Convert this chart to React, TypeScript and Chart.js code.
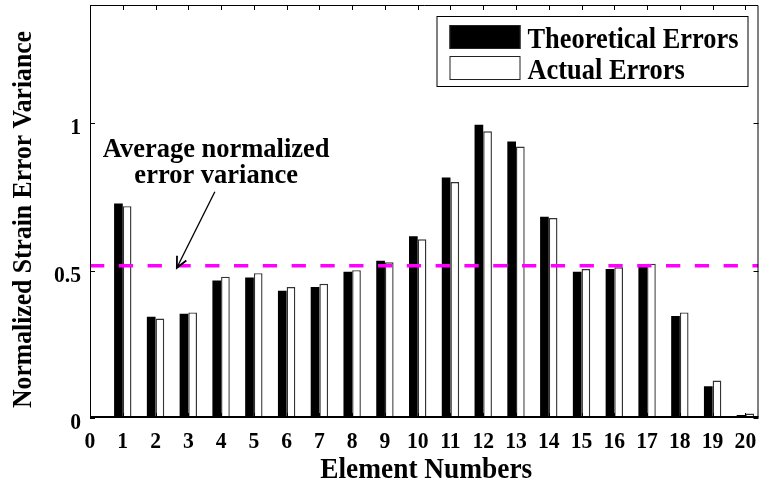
import { useEffect, useRef } from "react";
import { Chart, registerables } from "chart.js";

Chart.register(...registerables);

// Element indices along the horizontal axis
const elementNumbers = [1, 2, 3, 4, 5, 6, 7, 8, 9, 10, 11, 12, 13, 14, 15, 16, 17, 18, 19, 20];

// Normalized strain error variance per element
const theoreticalErrors = [
  0.727, 0.343, 0.353, 0.466, 0.476, 0.431, 0.444, 0.496, 0.533, 0.616,
  0.815, 0.994, 0.937, 0.682, 0.496, 0.505, 0.515, 0.346, 0.108, 0.01,
];
const actualErrors = [
  0.718, 0.337, 0.358, 0.479, 0.491, 0.444, 0.455, 0.501, 0.528, 0.606,
  0.8, 0.972, 0.92, 0.678, 0.505, 0.511, 0.523, 0.358, 0.127, 0.015,
];

// Average normalized error variance (dashed reference line)
const averageVariance = 0.516;

const xTickValues = [0, 1, 2, 3, 4, 5, 6, 7, 8, 9, 10, 11, 12, 13, 14, 15, 16, 17, 18, 19, 20];
const yTickValues = [0, 0.5, 1];
const yTickLabels = ["0", "0.5", "1"];

const seriesLabels = ["Theoretical Errors", "Actual Errors"];
const annotationLines = ["Average normalized", "error variance"];
const xAxisTitle = "Element Numbers";
const yAxisTitle = "Normalized Strain Error Variance";

const X_MAX = 20.4;
const Y_MAX = 1.4;
const SERIF = '"Liberation Serif", "Times New Roman", serif';

// Bold serif text, optionally narrowed horizontally and rotated
function drawText(
  ctx: CanvasRenderingContext2D,
  text: string,
  x: number,
  y: number,
  size: number,
  sx: number,
  align: CanvasTextAlign,
  rotate = 0,
) {
  ctx.save();
  ctx.translate(x, y);
  if (rotate) ctx.rotate(rotate);
  ctx.scale(sx, 1);
  ctx.font = `bold ${size}px ${SERIF}`;
  ctx.fillStyle = "#000";
  ctx.textAlign = align;
  ctx.textBaseline = "alphabetic";
  ctx.fillText(text, 0, 0);
  ctx.restore();
}

// Box around the plot, inward ticks on all four sides, tick labels and axis titles
const framePlugin = {
  id: "frame",
  afterDatasetsDraw(chart: any) {
    const { ctx, chartArea: a, scales } = chart;
    const xs = scales.x;
    const ys = scales.y;
    ctx.save();
    ctx.strokeStyle = "#000";
    ctx.lineWidth = 1;
    ctx.beginPath();
    ctx.rect(a.left + 0.5, a.top + 0.5, a.right - a.left - 1, a.bottom - a.top - 1);
    ctx.stroke();
    const tl = 5;
    ctx.beginPath();
    for (const v of xTickValues) {
      const px = Math.round(xs.getPixelForValue(v)) + 0.5;
      ctx.moveTo(px, a.top);
      ctx.lineTo(px, a.top + tl);
      ctx.moveTo(px, a.bottom);
      ctx.lineTo(px, a.bottom - tl);
    }
    for (const v of yTickValues) {
      const py = Math.round(ys.getPixelForValue(v)) + 0.5;
      ctx.moveTo(a.left, py);
      ctx.lineTo(a.left + tl, py);
      ctx.moveTo(a.right, py);
      ctx.lineTo(a.right - tl, py);
    }
    ctx.stroke();
    // heavier baseline under the bars
    ctx.lineWidth = 2;
    ctx.beginPath();
    ctx.moveTo(a.left, a.bottom - 1);
    ctx.lineTo(a.right, a.bottom - 1);
    ctx.stroke();
    ctx.restore();

    // tick labels
    for (const v of xTickValues) {
      drawText(ctx, String(v), xs.getPixelForValue(v), a.bottom + 30, 24, 0.9, "center");
    }
    yTickValues.forEach((v, i) => {
      drawText(ctx, yTickLabels[i], a.left - 9, ys.getPixelForValue(v) + 11, 24, 0.9, "right");
    });

    // axis titles
    drawText(ctx, xAxisTitle, (a.left + a.right) / 2 + 2, a.bottom + 60, 28.5, 0.96, "center");
    drawText(ctx, yAxisTitle, 31, (a.top + a.bottom) / 2 + 8, 27, 0.95, "center", -Math.PI / 2);
  },
};

// Text label with an arrow pointing at the average line
const annotationPlugin = {
  id: "avgNote",
  afterDraw(chart: any) {
    const { ctx, scales } = chart;
    const xs = scales.x;
    const ys = scales.y;
    const cx = xs.getPixelForValue(3.85);
    drawText(ctx, annotationLines[0], cx, ys.getPixelForValue(0.885), 26.5, 1, "center");
    drawText(ctx, annotationLines[1], cx, ys.getPixelForValue(0.797), 26.5, 1, "center");

    const x0 = xs.getPixelForValue(3.81);
    const y0 = ys.getPixelForValue(0.767);
    const x1 = xs.getPixelForValue(2.65);
    const y1 = ys.getPixelForValue(averageVariance) + 2;
    ctx.save();
    ctx.strokeStyle = "#000";
    ctx.lineWidth = 1.3;
    ctx.beginPath();
    ctx.moveTo(x0, y0);
    ctx.lineTo(x1, y1);
    ctx.stroke();
    const ang = Math.atan2(y1 - y0, x1 - x0);
    const hl = 12;
    const spread = 0.45;
    ctx.lineWidth = 1.8;
    ctx.beginPath();
    ctx.moveTo(x1 - hl * Math.cos(ang - spread), y1 - hl * Math.sin(ang - spread));
    ctx.lineTo(x1, y1);
    ctx.lineTo(x1 - hl * Math.cos(ang + spread), y1 - hl * Math.sin(ang + spread));
    ctx.stroke();
    ctx.restore();
  },
};

// Framed legend in the upper right corner of the plot
const legendPlugin = {
  id: "boxLegend",
  afterDraw(chart: any) {
    const { ctx, chartArea: a } = chart;
    const left = a.right - 322;
    const right = a.right - 10;
    const top = a.top + 11;
    const bottom = a.top + 82;
    ctx.save();
    ctx.fillStyle = "#fff";
    ctx.fillRect(left, top, right - left, bottom - top);
    ctx.strokeStyle = "#000";
    ctx.lineWidth = 1;
    ctx.strokeRect(left + 0.5, top + 0.5, right - left - 1, bottom - top - 1);

    const rows = [
      { y: top + 9, fill: "#000" },
      { y: top + 40, fill: "#fff" },
    ];
    rows.forEach((r) => {
      ctx.fillStyle = r.fill;
      ctx.fillRect(left + 13, r.y, 71, 24);
      ctx.strokeStyle = "#222";
      ctx.lineWidth = 1;
      ctx.strokeRect(left + 13.5, r.y + 0.5, 70, 23);
    });
    ctx.restore();
    rows.forEach((r, i) => {
      drawText(ctx, seriesLabels[i], left + 91, r.y + 23, 30, 0.88, "left");
    });
  },
};

export default function App() {
  const canvasRef = useRef<HTMLCanvasElement | null>(null);

  useEffect(() => {
    const canvas = canvasRef.current;
    if (!canvas) return;

    const chart = new Chart(canvas, {
      type: "bar",
      data: {
        datasets: [
          {
            type: "line" as const,
            label: "average",
            data: [
              { x: 0, y: averageVariance },
              { x: X_MAX, y: averageVariance },
            ],
            borderColor: "#ff00ff",
            borderWidth: 3.5,
            borderDash: [14.3, 14.5],
            pointRadius: 0,
            fill: false,
            order: 0,
          },
          {
            type: "bar" as const,
            label: seriesLabels[0],
            data: elementNumbers.map((x, i) => ({ x, y: theoreticalErrors[i] })),
            backgroundColor: "#000",
            borderWidth: 0,
            categoryPercentage: 0.53,
            barPercentage: 1,
            order: 1,
          },
          {
            type: "bar" as const,
            label: seriesLabels[1],
            data: elementNumbers.map((x, i) => ({ x, y: actualErrors[i] })),
            backgroundColor: "#fff",
            borderColor: "#333",
            borderWidth: 1.4,
            categoryPercentage: 0.53,
            barPercentage: 1,
            order: 1,
          },
        ] as any,
      },
      options: {
        responsive: false,
        animation: false,
        layout: { padding: { left: 0, right: 4.5, top: 5, bottom: 0 } },
        plugins: {
          legend: { display: false },
          tooltip: { enabled: false },
        },
        scales: {
          x: {
            type: "linear",
            min: 0,
            max: X_MAX,
            offset: false,
            grid: { display: false },
            border: { display: false },
            afterBuildTicks: (s: any) => {
              s.ticks = xTickValues.map((v) => ({ value: v }));
            },
            ticks: { display: false },
            afterFit: (s: any) => {
              s.height = 70;
              s.paddingLeft = 0;
              s.paddingRight = 0;
            },
          },
          y: {
            type: "linear",
            min: 0,
            max: Y_MAX,
            grid: { display: false },
            border: { display: false },
            afterBuildTicks: (s: any) => {
              s.ticks = yTickValues.map((v) => ({ value: v }));
            },
            ticks: { display: false },
            afterFit: (s: any) => {
              s.width = 90;
              s.paddingTop = 0;
              s.paddingBottom = 0;
            },
          },
        },
      },
      plugins: [framePlugin, legendPlugin, annotationPlugin],
    });

    return () => chart.destroy();
  }, []);

  return (
    <div style={{ position: "fixed", left: 0, top: 0, width: 763, height: 488, background: "#fff" }}>
      <canvas ref={canvasRef} width={763} height={488} style={{ display: "block" }} />
    </div>
  );
}
